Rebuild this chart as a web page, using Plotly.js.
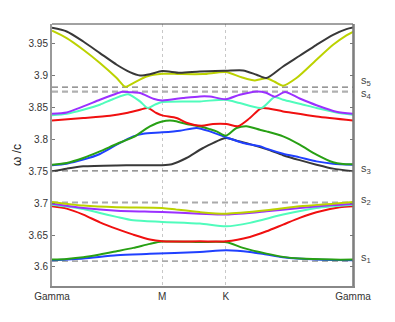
<!DOCTYPE html>
<html><head><meta charset="utf-8">
<script src="https://cdn.plot.ly/plotly-3.0.1.min.js"></script>
<style>html,body{margin:0;padding:0;background:#fff}#chart{width:395px;height:322px}</style>
</head><body><div id="chart"></div>
<script>
// k-path positions
const kPos = [0, 0.5774, 0.9107, 1.5774];
const kLabels = ['Gamma', 'M', 'K', 'Gamma'];
const yTicks = [3.6, 3.65, 3.7, 3.75, 3.8, 3.85, 3.9, 3.95];

// Bands (frequency ω/c)
const b1x = [0, 0.164, 0.339, 0.513, 0.775, 0.914, 1.037, 1.124, 1.211, 1.386, 1.5774];
const b1y = [3.6103, 3.613, 3.6182, 3.6204, 3.6235, 3.626, 3.6235, 3.6193, 3.615, 3.6114, 3.6103];

const b2x = [0, 0.077, 0.164, 0.251, 0.339, 0.426, 0.513, 0.5774, 0.775, 0.914, 1.001, 1.124, 1.211, 1.298, 1.473, 1.5774];
const b2y = [3.6114, 3.6125, 3.615, 3.6193, 3.6245, 3.6298, 3.6361, 3.6397, 3.639, 3.6386, 3.6298, 3.6208, 3.6157, 3.613, 3.6114, 3.6114];

const b3x = [0, 0.077, 0.164, 0.251, 0.339, 0.426, 0.513, 0.5774, 0.775, 0.914, 1.037, 1.124, 1.211, 1.298, 1.386, 1.508, 1.5774];
const b3y = [3.695, 3.6914, 3.682, 3.6699, 3.6596, 3.6506, 3.6428, 3.6401, 3.6401, 3.6401, 3.647, 3.6558, 3.6663, 3.6768, 3.6856, 3.6934, 3.695];

const b4x = [0, 0.164, 0.251, 0.339, 0.426, 0.5774, 0.775, 0.914, 1.037, 1.211, 1.386, 1.5774];
const b4y = [3.6976, 3.6909, 3.6846, 3.6784, 3.673, 3.6705, 3.6679, 3.6636, 3.669, 3.682, 3.6925, 3.6976];

const b5x = [0, 0.164, 0.339, 0.5774, 0.775, 0.914, 1.124, 1.298, 1.473, 1.5774];
const b5y = [3.6992, 3.6925, 3.6882, 3.6862, 3.6835, 3.682, 3.6871, 3.6925, 3.6969, 3.6987];

const b6x = [0, 0.164, 0.339, 0.5774, 0.653, 0.775, 0.914, 1.124, 1.298, 1.473, 1.5774];
const b6y = [3.7019, 3.6961, 3.6934, 3.6925, 3.6898, 3.6859, 3.6835, 3.6887, 3.695, 3.6992, 3.7019];

const b7x = [0, 0.077, 0.164, 0.339, 0.5774, 0.628, 0.705, 0.792, 0.9107, 0.967, 1.037, 1.124, 1.211, 1.298, 1.386, 1.473, 1.5774];
const b7y = [3.75, 3.7541, 3.7577, 3.7592, 3.7595, 3.7611, 3.7708, 3.7865, 3.8022, 3.798, 3.7925, 3.7847, 3.7752, 3.7674, 3.7603, 3.7541, 3.75];

const b8x = [0, 0.077, 0.164, 0.251, 0.339, 0.426, 0.478, 0.5774, 0.670, 0.758, 0.827, 0.9107, 1.001, 1.089, 1.124, 1.211, 1.298, 1.386, 1.473, 1.5774];
const b8y = [3.7596, 3.7619, 3.7682, 3.7771, 3.7917, 3.8047, 3.8089, 3.811, 3.8136, 3.8179, 3.8125, 3.8034, 3.7944, 3.7894, 3.7855, 3.7776, 3.7718, 3.7655, 3.7619, 3.7603];

const b9x = [0, 0.077, 0.164, 0.251, 0.339, 0.426, 0.513, 0.5774, 0.635, 0.705, 0.783, 0.827, 0.862, 0.9107, 0.967, 1.019, 1.089, 1.124, 1.211, 1.298, 1.386, 1.473, 1.525, 1.5774];
const b9y = [3.7603, 3.763, 3.7708, 3.7812, 3.7928, 3.8034, 3.8204, 3.8282, 3.8293, 3.8241, 3.8199, 3.816, 3.8125, 3.8058, 3.8179, 3.8207, 3.8152, 3.8125, 3.8047, 3.7917, 3.776, 3.764, 3.7614, 3.7611];

const b10x = [0, 0.164, 0.304, 0.391, 0.461, 0.502, 0.547, 0.5774, 0.653, 0.705, 0.783, 0.844, 0.914, 0.975, 1.037, 1.098, 1.211, 1.386, 1.5774];
const b10y = [3.8298, 3.8335, 3.8371, 3.8414, 3.8466, 3.8492, 3.8414, 3.8376, 3.8335, 3.8262, 3.8215, 3.8241, 3.8241, 3.8207, 3.8335, 3.8489, 3.8439, 3.836, 3.8298];

const b11x = [0, 0.077, 0.164, 0.251, 0.321, 0.399, 0.461, 0.502, 0.539, 0.5774, 0.775, 0.9107, 0.984, 1.098, 1.167, 1.211, 1.298, 1.386, 1.490, 1.5774];
const b11y = [3.8379, 3.8403, 3.8466, 3.8544, 3.8633, 3.8709, 3.8596, 3.8492, 3.8544, 3.8586, 3.8596, 3.8622, 3.857, 3.8494, 3.8665, 3.8622, 3.856, 3.8492, 3.8422, 3.8387];

const b12x = [0, 0.077, 0.164, 0.251, 0.321, 0.368, 0.408, 0.461, 0.531, 0.5774, 0.687, 0.775, 0.827, 0.9107, 0.984, 1.072, 1.121, 1.167, 1.221, 1.298, 1.386, 1.490, 1.5774];
const b12y = [3.8403, 3.8423, 3.8517, 3.8622, 3.870, 3.8748, 3.874, 3.8727, 3.8638, 3.8611, 3.8649, 3.8674, 3.8672, 3.863, 3.870, 3.8752, 3.8732, 3.8669, 3.8743, 3.8641, 3.8536, 3.8434, 3.8403];

const b13x = [0, 0.077, 0.164, 0.251, 0.339, 0.384, 0.426, 0.496, 0.5774, 0.670, 0.792, 0.9107, 0.993, 1.063, 1.124, 1.167, 1.211, 1.281, 1.386, 1.473, 1.543, 1.5774];
const b13y = [3.9704, 3.9589, 3.9406, 3.9198, 3.8962, 3.8826, 3.8884, 3.8987, 3.903, 3.9025, 3.9025, 3.9056, 3.8975, 3.8925, 3.8959, 3.8904, 3.8842, 3.8962, 3.9249, 3.9484, 3.9633, 3.9688];

const b14x = [0, 0.077, 0.164, 0.251, 0.339, 0.408, 0.461, 0.513, 0.5774, 0.670, 0.775, 0.9107, 1.001, 1.072, 1.124, 1.211, 1.298, 1.386, 1.473, 1.543, 1.5774];
const b14y = [3.975, 3.9693, 3.9536, 3.9354, 3.9171, 3.9056, 3.9003, 3.9022, 3.9072, 3.9045, 3.9066, 3.9077, 3.9082, 3.9014, 3.8962, 3.9144, 3.9312, 3.9484, 3.9641, 3.973, 3.9755];

const bandX = [b1x, b2x, b3x, b4x, b5x, b6x, b7x, b8x, b9x, b10x, b11x, b12x, b13x, b14x];
const bandY = [b1y, b2y, b3y, b4y, b5y, b6y, b7y, b8y, b9y, b10y, b11y, b12y, b13y, b14y];
const palette = ['#2040ff', '#28a014', '#f01010', '#50fcbc', '#9b30ff', '#bcd200', '#383838'];

// reference levels
const sLevels = [3.609, 3.701, 3.7505, 3.875, 3.882];
const sNames = ['s<sub>1</sub>', 's<sub>2</sub>', 's<sub>3</sub>', 's<sub>4</sub>', 's<sub>5</sub>'];
const sColors = ['#aaaaaa', '#aaaaaa', '#777777', '#b0b0b0', '#777777'];
const sWidths = [1.8, 1.8, 1.3, 2.2, 1.3];
const sShift = [3, 2, 2, -2, 6];

const traces = [];
sLevels.forEach((v, i) => {
  traces.push({x: [kPos[0], kPos[3]], y: [v, v], mode: 'lines', hoverinfo: 'skip',
    line: {color: sColors[i], width: sWidths[i], dash: '6px,4px'}});
});
bandX.forEach((xs, i) => {
  traces.push({x: xs, y: bandY[i], mode: 'lines',
    line: {color: palette[i % 7], width: 2, shape: 'spline', smoothing: 0.7}});
});

const annotations = sLevels.map((v, i) => ({
  xref: 'paper', yref: 'y', x: 1.02, y: v, xanchor: 'left', yanchor: 'middle',
  text: sNames[i], showarrow: false, yshift: sShift[i],
  font: {family: 'Liberation Sans, Arial, sans-serif', size: 11, color: '#444'}
}));

const layout = {
  width: 395, height: 322,
  margin: {l: 52, r: 42, t: 24, b: 36},
  paper_bgcolor: '#fff', plot_bgcolor: '#fff',
  showlegend: false,
  font: {family: 'Liberation Sans, Arial, sans-serif', size: 10, color: '#333'},
  xaxis: {range: [kPos[0], kPos[3]], tickvals: kPos, ticktext: kLabels, ticks: '',
    showgrid: true, gridcolor: '#c8c8c8', griddash: 'dot', gridwidth: 1,
    showline: true, linecolor: '#888', linewidth: 2, zeroline: false,
    tickfont: {size: 10, color: '#333'}},
  yaxis: {range: [3.57, 3.981], tickvals: yTicks, ticktext: yTicks.map(String),
    ticks: 'inside', ticklen: 3, tickcolor: '#777', mirror: 'ticks',
    showgrid: false, showline: true, linecolor: '#999', linewidth: 2, zeroline: false,
    tickfont: {size: 10, color: '#333'},
    title: {text: 'ω /c', font: {size: 12, color: '#222'}, standoff: 4}},
  shapes: [
    {type: 'line', xref: 'paper', yref: 'paper', x0: 0, x1: 1, y0: 1, y1: 1, line: {color: '#444', width: 1}},
    {type: 'line', xref: 'paper', yref: 'paper', x0: 1, x1: 1, y0: 0, y1: 1, line: {color: '#777', width: 1.5}}
  ],
  annotations: annotations
};
Plotly.newPlot('chart', traces, layout, {displayModeBar: false, staticPlot: true});
</script></body></html>
